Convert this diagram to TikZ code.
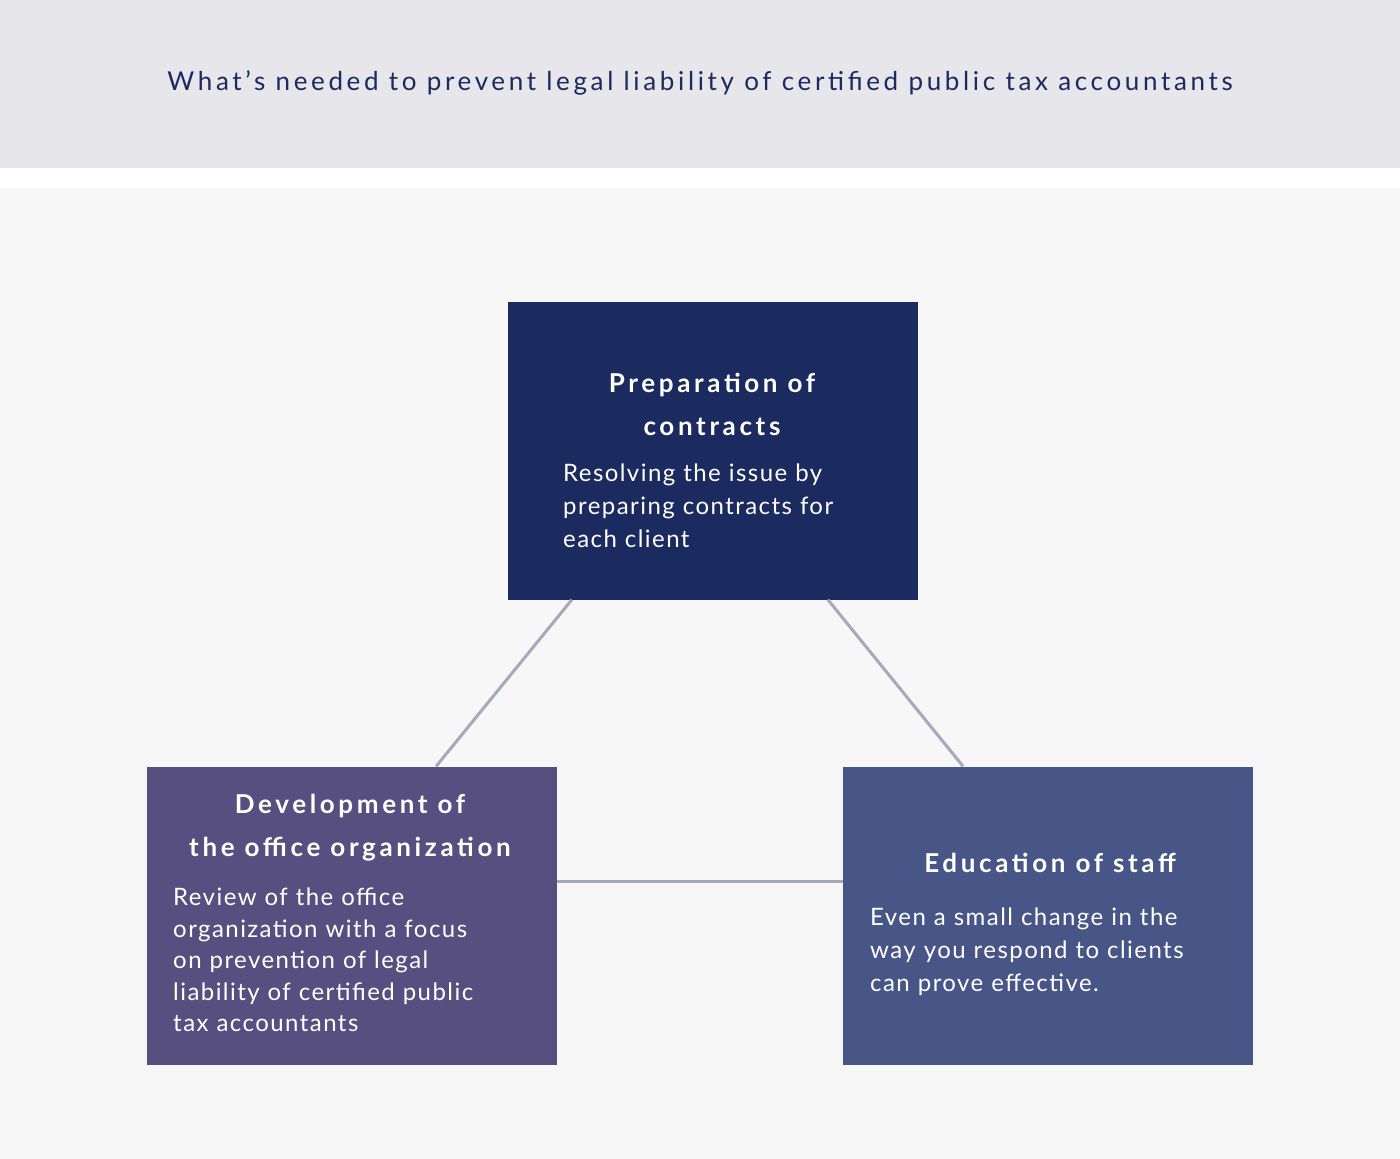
\documentclass[tikz,border=0pt]{standalone}
\usepackage{fontspec}
\setmainfont{Lato}[LetterSpace=6]
\newfontfamily\headfont{Lato}[LetterSpace=14]
\usetikzlibrary{positioning,calc}
\definecolor{navy}{HTML}{1B2A5F}
\definecolor{plum}{HTML}{574F80}
\definecolor{slate}{HTML}{485587}
\definecolor{band}{HTML}{E6E6EB}
\definecolor{paper}{HTML}{F7F7F7}
\definecolor{wire}{HTML}{A4AABD}
\tikzset{
  card/.style={minimum width=410pt, minimum height=298pt, inner sep=0pt},
  cardtitle/.style={text=white, font=\headfont\bfseries\fontsize{26}{43}\selectfont, align=center},
  cardbody/.style={text=white, font=\fontsize{24}{33}\selectfont, align=left, anchor=north west, inner sep=0pt, text width=380pt},
  link/.style={draw=wire, line width=3pt}
}
\begin{document}
\begin{tikzpicture}[x=1pt,y=-1pt]
\useasboundingbox (0,0) rectangle (1400,1159);
% backgrounds
\fill[band] (0,0) rectangle (1400,168);
\fill[paper] (0,188) rectangle (1400,1159);
\node[text=navy, font=\fontsize{26}{30}\selectfont\addfontfeature{LetterSpace=14}] (head) at (700,83)
  {What's needed to prevent legal liability of certified public tax accountants};
% boxes
\node[card, fill=navy] (prep) at (713,450.5) {};
\node[card, fill=plum] (dev) at (352,915.5) {};
\node[card, fill=slate] (edu) at (1048,915.5) {};
% connectors
\draw[link] ($(prep.south west)!0.156!(prep.south east)$) -- ($(dev.north west)!0.705!(dev.north east)$);
\draw[link] ($(prep.south west)!0.78!(prep.south east)$) -- ($(edu.north west)!0.293!(edu.north east)$);
\draw[link] ($(dev.north east)!0.386!(dev.south east)$) -- ($(edu.north west)!0.386!(edu.south west)$);
% texts
\node[cardtitle] (prept) at (712,404) {Preparation of\\contracts};
\node[cardbody] (prepb) at (563,464) {Resolving the issue by\\preparing contracts for\\each client};
\node[cardtitle] (devt) at (350,828) {Development of\\the office organization};
\node[cardbody, font=\fontsize{24}{31.5}\selectfont] (devb) at (173,888) {Review of the office\\organization with a focus\\on prevention of legal\\liability of certified public\\tax accountants};
\node[cardtitle] (edut) at (1050,863) {Education of staff};
\node[cardbody] (edub) at (870,908) {Even a small change in the\\way you respond to clients\\can prove effective.};
\end{tikzpicture}
\end{document}
